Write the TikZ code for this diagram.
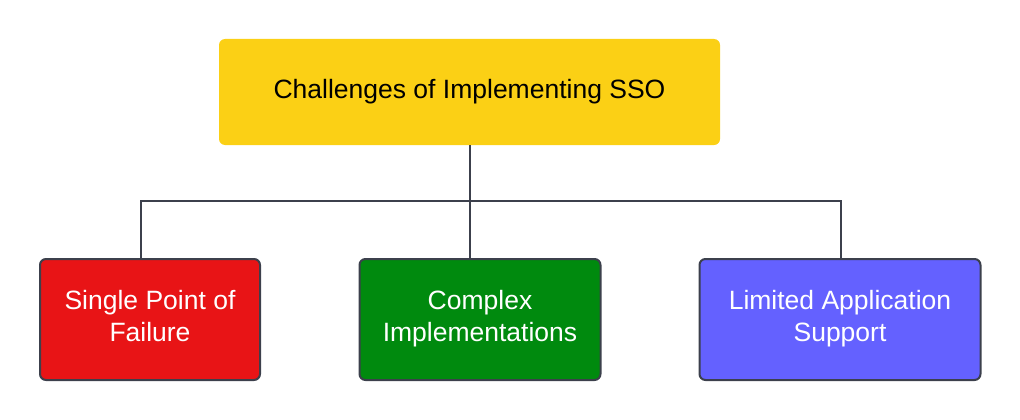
\documentclass[tikz,border=0pt]{standalone}
\usepackage{fontspec}
\setmainfont{Liberation Sans}
\definecolor{cyellow}{HTML}{FBD015}
\definecolor{cred}{HTML}{E81416}
\definecolor{cgreen}{HTML}{008A0E}
\definecolor{cblue}{HTML}{6461FF}
\definecolor{cline}{HTML}{3C404C}
\newcommand{\twolines}[2]{\raisebox{2pt}{\begin{tabular}{@{}c@{}}#1\\#2\end{tabular}}}
\begin{document}
\begin{tikzpicture}[x=1pt,y=-1pt,
  box/.style={rounded corners=6pt, inner sep=0pt, align=center, font=\fontsize{26.5}{32}\selectfont},
  leaf/.style={box, draw=cline, line width=2pt, text=white},
  conn/.style={draw=cline, line width=2pt}]
\useasboundingbox (0,0) rectangle (1020,420);
\node[box, fill=cyellow, minimum width=501pt, minimum height=106pt] (top) at (469.5,92) {Challenges of Implementing SSO};
\node[leaf, fill=cred, minimum width=220pt, minimum height=121pt] (a) at (150,319.5) {\twolines{Single Point of}{Failure}};
\node[leaf, fill=cgreen, minimum width=241pt, minimum height=121pt] (b) at (480,319.5) {\twolines{Complex}{Implementations}};
\node[leaf, fill=cblue, minimum width=281pt, minimum height=121pt] (c) at (840,319.5) {\twolines{Limited Application}{Support}};
\coordinate (j) at (470,200.5);
\draw[conn] (470,145) coordinate (ts) -- (j);
\draw[conn] (141,259) coordinate (as) |- (j);
\draw[conn] (840.5,259) coordinate (cs) |- (j);
\draw[conn] (j) -- (470,259) coordinate (bs);
\end{tikzpicture}
\end{document}
